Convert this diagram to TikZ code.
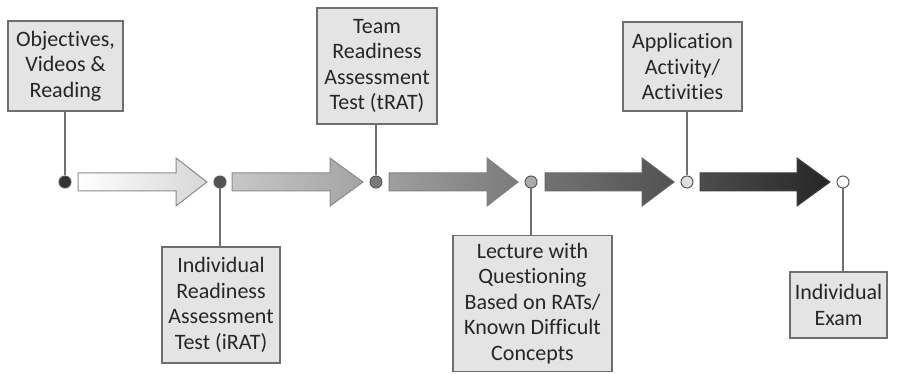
\documentclass[tikz,border=0pt]{standalone}
\usepackage{fontspec}
\setmainfont{Carlito}[Ligatures={NoCommon}]
\usetikzlibrary{positioning}
\definecolor{boxfill}{HTML}{E4E4E4}
\definecolor{boxline}{HTML}{6E6E6E}
\definecolor{txt}{HTML}{262626}
\definecolor{conn}{HTML}{707070}
\tikzset{
  infobox/.style={draw=boxline, line width=1.3pt, fill=boxfill, text=txt, align=center,
    inner sep=2pt, font=\fontsize{22}{25.5}\selectfont},
  dotnode/.style={circle, draw=#1!70!black, line width=1pt, minimum size=12pt, inner sep=0pt},
  connline/.style={draw=conn, line width=1.4pt},
  blockarrow/.style={draw=#1, line width=1pt}
}
\begin{document}
\begin{tikzpicture}[x=1pt,y=-1pt]
\useasboundingbox (0,0) rectangle (897,374);
% boxes
\node[infobox, minimum width=115pt, minimum height=90pt] (b1) at (65.5,66) {Objectives,\\Videos \&\\Reading};
\node[infobox, minimum width=118pt, minimum height=116pt] (b2) at (221,305) {Individual\\Readiness\\Assessment\\Test (iRAT)};
\node[infobox, minimum width=120pt, minimum height=116pt] (b3) at (377,66) {Team\\Readiness\\Assessment\\Test (tRAT)};
\node[infobox, minimum width=159pt, minimum height=136pt] (b4) at (532.5,303.5) {Lecture with\\Questioning\\Based on RATs/\\Known Difficult\\Concepts};
\node[infobox, minimum width=119pt, minimum height=89pt] (b5) at (682.5,66.5) {Application\\Activity/\\Activities};
\node[infobox, minimum width=97pt, minimum height=66pt] (b6) at (838.5,305) {Individual\\Exam};
% dots
\node[dotnode=gray, fill=black!80] (d1) at (65,182) {};
\node[dotnode=gray, fill=black!68] (d2) at (220,182) {};
\node[dotnode=gray, fill=black!52] (d3) at (376,182) {};
\node[dotnode=gray, fill=black!33] (d4) at (531,182) {};
\node[dotnode=gray, fill=black!12] (d5) at (687,182) {};
\node[dotnode=gray, fill=white] (d6) at (843,182) {};
% connectors
\draw[connline] (b1.south -| d1) -- (d1);
\draw[connline] (d2) -- (b2.north -| d2);
\draw[connline] (b3.south -| d3) -- (d3);
\draw[connline] (d4) -- (b4.north -| d4);
\draw[connline] (b5.south -| d5) -- (d5);
\draw[connline] (d6) -- (b6.north -| d6);
% block arrows
\draw[blockarrow=black!45, left color=white, right color=black!16]
  (78,173) -- (176,173) -- (176,158) -- (207,182) -- (176,206) -- (176,191) -- (78,191) -- cycle;
\draw[blockarrow=black!45, left color=black!22, right color=black!36]
  (232,173) -- (330,173) -- (330,158) -- (363,182) -- (330,206) -- (330,191) -- (232,191) -- cycle;
\draw[blockarrow=black!50, left color=black!38, right color=black!52]
  (389,173) -- (487,173) -- (487,158) -- (518,182) -- (487,206) -- (487,191) -- (389,191) -- cycle;
\draw[blockarrow=black!60, left color=black!55, right color=black!68]
  (545,173) -- (642,173) -- (642,158) -- (674,182) -- (642,206) -- (642,191) -- (545,191) -- cycle;
\draw[blockarrow=black!75, left color=black!70, right color=black!85]
  (700,173) -- (797,173) -- (797,158) -- (830,182) -- (797,206) -- (797,191) -- (700,191) -- cycle;
\end{tikzpicture}
\end{document}
